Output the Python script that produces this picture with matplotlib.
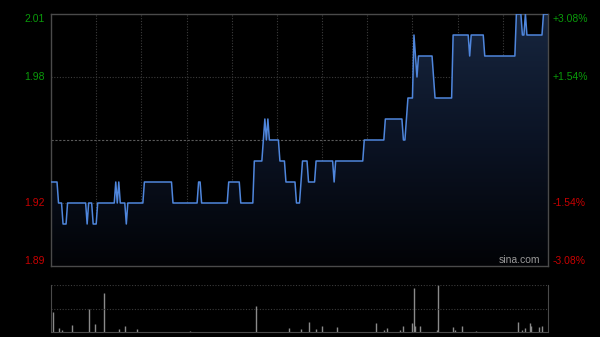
import numpy as np
import matplotlib
matplotlib.use("Agg")
import matplotlib.pyplot as plt
from matplotlib.colors import LinearSegmentedColormap

# intraday minute prices, stored as runs (price, number of minutes)
run_prices = [1.93, 1.92, 1.91, 1.92, 1.91, 1.92, 1.91, 1.92, 1.93, 1.92,
              1.93, 1.92, 1.91, 1.92, 1.93, 1.92, 1.93, 1.92, 1.93, 1.92,
              1.94, 1.95, 1.96, 1.95, 1.96, 1.95, 1.94, 1.93, 1.92, 1.93,
              1.94, 1.93, 1.94, 1.93, 1.94, 1.95, 1.96, 1.95, 1.96, 1.97,
              2.00, 1.99, 1.98, 1.99, 1.98, 1.97, 2.00, 1.99, 2.00, 1.99,
              2.01, 2.00, 2.01, 2.00, 2.01]
run_lengths = [5, 3, 3, 13, 1, 3, 3, 12, 1, 1,
               1, 4, 1, 11, 19, 17, 2, 18, 8, 9,
               6, 1, 1, 1, 1, 7, 4, 7, 3, 1,
               4, 5, 12, 1, 19, 14, 12, 2, 1, 4,
               1, 1, 1, 10, 1, 12, 11, 1, 9, 21,
               4, 2, 1, 11, 4]

# volume spikes (minute index, relative volume)
vol_minutes = [1, 5, 7, 14, 25, 29, 35, 45, 49, 57, 92, 136, 158,
               166, 171, 176, 180, 190, 216, 221, 223, 232, 234, 240, 241,
               242, 245, 256, 257, 267, 268, 273, 282, 310, 313, 315, 318,
               319, 324, 326]
vol_values = [42, 8, 5, 15, 50, 18, 84, 6, 12, 7, 3, 56, 8,
              6, 22, 6, 12, 10, 20, 5, 8, 5, 12, 20, 94,
              13, 13, 5, 100, 10, 5, 12, 3, 22, 5, 8, 19,
              13, 10, 12]

prev_close = 1.95
y_ticks = [2.01, 1.98, 1.92, 1.89]
pct_labels = ["+3.08%", "+1.54%", "-1.54%", "-3.08%"]

prices = np.repeat(run_prices, run_lengths)
minutes = np.arange(len(prices))
n_min = 330

bg = "#000000"
frame = "#4a4a4a"
grid = "#3c3c3c"
green = "#0a9a0a"
red = "#c80000"
font = "Liberation Sans"

fig = plt.figure(figsize=(6, 3.37), dpi=100)
fig.patch.set_facecolor(bg)

ax = fig.add_axes([51 / 600, 1 - 266 / 337, 497 / 600, 252 / 337])
ax.set_facecolor(bg)
ax.set_xlim(0, n_min)
ax.set_ylim(1.89, 2.01)

# grid: every 30 minutes, plus price lines
for m in range(30, n_min, 30):
    ax.axvline(m, color=grid, lw=0.8, ls=(0, (1, 1.5)), zorder=0)
for v in [1.98, 1.92]:
    ax.axhline(v, color=grid, lw=0.8, ls=(0, (1, 1.5)), zorder=0)
ax.axhline(prev_close, color="#5a5a5a", lw=0.8, ls=(0, (2, 1.5)), zorder=0)

# gradient area under the line
area = ax.fill_between(minutes, prices, 1.89, color="none", lw=0)
cmap = LinearSegmentedColormap.from_list("navy", ["#020306", "#0b1324", "#17263f"])
grad = np.linspace(0, 1, 256).reshape(-1, 1)
img = ax.imshow(grad, extent=[0, n_min, 1.89, 2.01], origin="lower",
                aspect="auto", cmap=cmap, zorder=1)
img.set_clip_path(area.get_paths()[0], transform=ax.transData)

ax.plot(minutes, prices, color="#4f86dc", lw=1.1, zorder=3)

for s in ax.spines.values():
    s.set_color(frame)
    s.set_linewidth(1)
ax.set_xticks([])
ax.set_yticks([])

# price labels left, percent labels right
for v, p in zip(y_ticks, pct_labels):
    c = green if v > prev_close else red
    va = "center"
    if v == 2.01:
        va = "top"
    elif v == 1.89:
        va = "bottom"
    ax.text(-0.012, v, f"{v:.2f}", transform=ax.get_yaxis_transform(),
            ha="right", va=va, color=c, fontsize=7.5, family=font)
    ax.text(1.01, v, p, transform=ax.get_yaxis_transform(),
            ha="left", va=va, color=c, fontsize=7.5, family=font)

ax.text(0.985, 0.005, "sina.com", transform=ax.transAxes, ha="right",
        va="bottom", color="#9a9a9a", fontsize=7.5, family=font)

# volume panel
vax = fig.add_axes([51 / 600, 1 - 332 / 337, 497 / 600, 47 / 337])
vax.set_facecolor(bg)
vax.set_xlim(0, n_min)
vax.set_ylim(0, 100)
vax.vlines(vol_minutes, 0, vol_values, color="#8a8a8a", lw=1)
vax.axhline(50, color=grid, lw=0.8, ls=(0, (1, 1.5)))
vax.axhline(100, color=grid, lw=0.8, ls=(0, (1, 1.5)))
vax.spines["top"].set_visible(False)
for k in ["left", "right", "bottom"]:
    vax.spines[k].set_color(frame)
vax.set_xticks([])
vax.set_yticks([])

fig.savefig("out.png", dpi=100, facecolor=bg)
